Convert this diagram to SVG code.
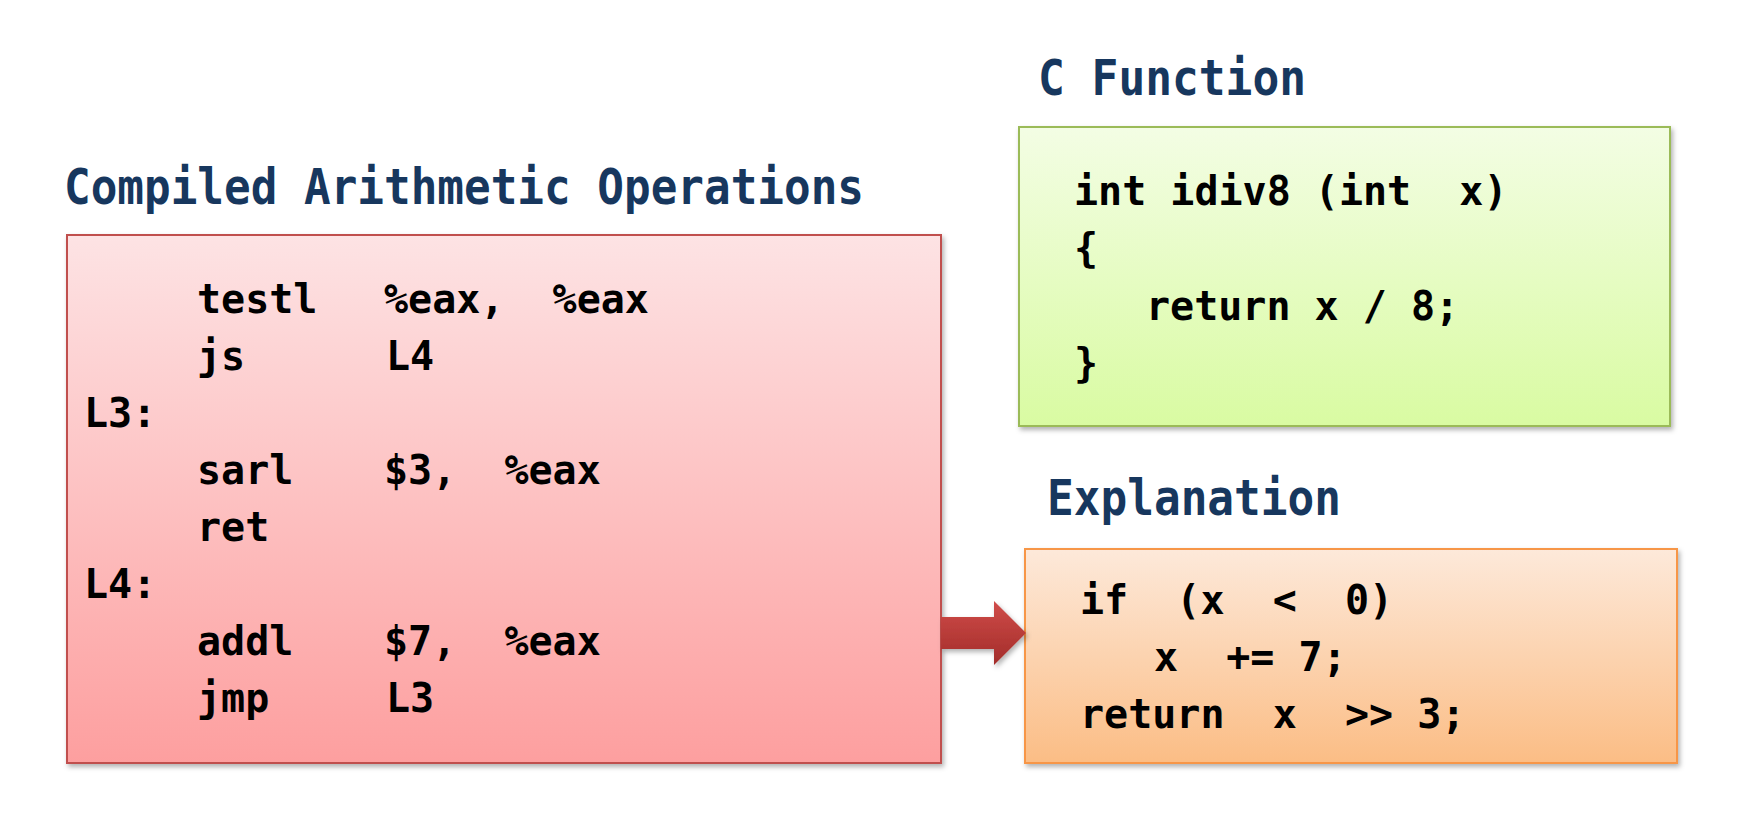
<svg xmlns="http://www.w3.org/2000/svg" width="1740" height="815" viewBox="0 0 1740 815">
  <defs>
    <linearGradient id="gRed" x1="0" y1="0" x2="0" y2="1">
      <stop offset="0" stop-color="#fde3e4"/>
      <stop offset="1" stop-color="#fd9f9f"/>
    </linearGradient>
    <linearGradient id="gGreen" x1="0" y1="0" x2="0" y2="1">
      <stop offset="0" stop-color="#f3fde4"/>
      <stop offset="1" stop-color="#d9fba2"/>
    </linearGradient>
    <linearGradient id="gOrange" x1="0" y1="0" x2="0" y2="1">
      <stop offset="0" stop-color="#fde9da"/>
      <stop offset="1" stop-color="#fbbd85"/>
    </linearGradient>
    <linearGradient id="gArrow" x1="0" y1="0" x2="0" y2="1">
      <stop offset="0" stop-color="#d04c49"/>
      <stop offset="1" stop-color="#a22c2a"/>
    </linearGradient>
    <filter id="shadow" x="-5%" y="-5%" width="112%" height="115%">
      <feDropShadow dx="2" dy="3" stdDeviation="2.5" flood-color="#000" flood-opacity="0.3"/>
    </filter>
  </defs>
  <style>
    .title { font-family: "DejaVu Sans Mono", "Liberation Mono", monospace; font-weight: bold; font-size: 50px; fill: #17375e; }
    .code { font-family: "DejaVu Sans Mono", "Liberation Mono", monospace; font-weight: bold; font-size: 40px; fill: #000; }
    .box { stroke-width: 2; filter: url(#shadow); }
  </style>
  <rect width="1740" height="815" fill="#ffffff"/>

  <g id="node-asm">
    <text class="title" x="64" y="204" textLength="800" lengthAdjust="spacingAndGlyphs">Compiled Arithmetic Operations</text>
    <rect class="box" x="67" y="235" width="874" height="528" fill="url(#gRed)" stroke="#c0504d"/>
    <g class="code">
      <text x="197" y="313">testl</text>
      <text x="384" y="313">%eax,&#160;&#160;%eax</text>
      <text x="197" y="370">js</text>
      <text x="386" y="370">L4</text>
      <text x="84" y="427">L3:</text>
      <text x="197" y="484">sarl</text>
      <text x="384" y="484">$3,&#160;&#160;%eax</text>
      <text x="197" y="541">ret</text>
      <text x="84" y="598">L4:</text>
      <text x="197" y="655">addl</text>
      <text x="384" y="655">$7,&#160;&#160;%eax</text>
      <text x="197" y="712">jmp</text>
      <text x="386" y="712">L3</text>
    </g>
  </g>

  <g id="node-cfunc">
    <text class="title" x="1038" y="95" textLength="268" lengthAdjust="spacingAndGlyphs">C Function</text>
    <rect class="box" x="1019" y="127" width="651" height="299" fill="url(#gGreen)" stroke="#9bbb59"/>
    <g class="code">
      <text x="1074" y="205">int idiv8 (int&#160;&#160;x)</text>
      <text x="1074" y="262">{</text>
      <text x="1146" y="320">return x / 8;</text>
      <text x="1074" y="377">}</text>
    </g>
  </g>

  <g id="node-expl">
    <text class="title" x="1047" y="515" textLength="294" lengthAdjust="spacingAndGlyphs">Explanation</text>
    <rect class="box" x="1025" y="549" width="652" height="214" fill="url(#gOrange)" stroke="#f79646"/>
    <g class="code">
      <text x="1080" y="614">if&#160;&#160;(x&#160;&#160;&lt;&#160;&#160;0)</text>
      <text x="1154" y="671">x&#160;&#160;+= 7;</text>
      <text x="1080" y="728">return&#160;&#160;x&#160;&#160;&gt;&gt; 3;</text>
    </g>
  </g>

  <g id="connectors">
    <polygon points="941,617 994,617 994,601 1026,633 994,665 994,649 941,649" fill="url(#gArrow)" filter="url(#shadow)"/>
  </g>
</svg>
